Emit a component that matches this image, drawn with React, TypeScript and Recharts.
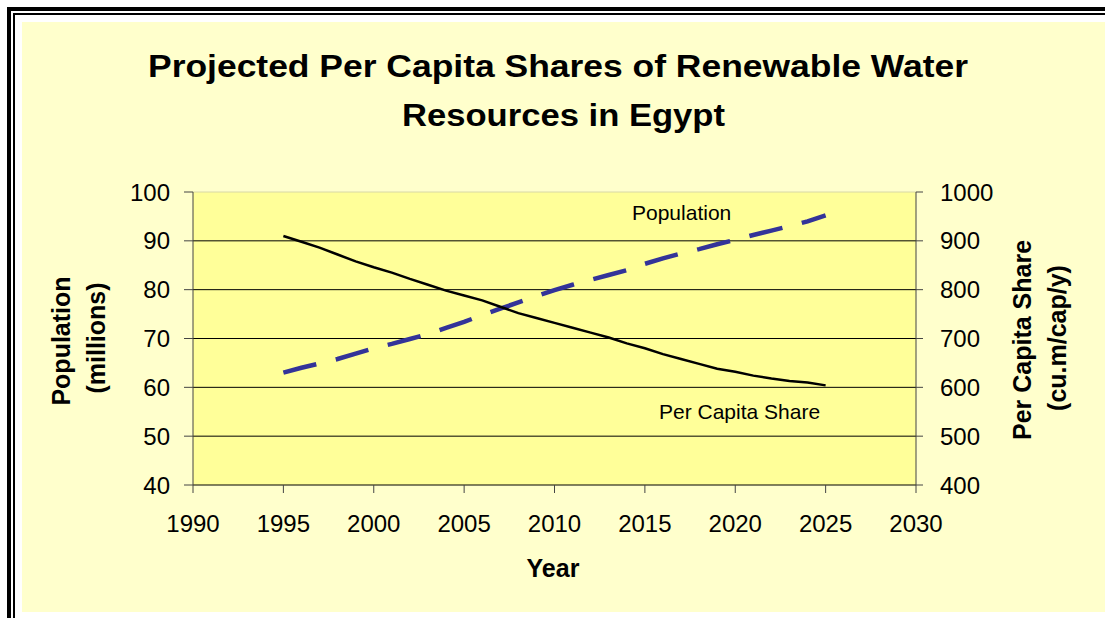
import React from "react";
import {
  LineChart,
  Line,
  XAxis,
  YAxis,
  CartesianGrid,
  ReferenceLine,
} from "recharts";

const years = [
  1995, 1996, 1997, 1998, 1999, 2000, 2001, 2002, 2003, 2004, 2005, 2006, 2007,
  2008, 2009, 2010, 2011, 2012, 2013, 2014, 2015, 2016, 2017, 2018, 2019, 2020,
  2021, 2022, 2023, 2024, 2025,
];
const population = [
  63, 64, 64.9, 65.8, 66.9, 68, 68.9, 69.9, 70.9, 72.2, 73.4, 74.8, 76.1, 77.4,
  78.7, 79.9, 81, 82, 83, 84, 85.3, 86.4, 87.4, 88.3, 89.3, 90.2, 91.2, 92.1, 93,
  94, 95.2,
];
const perCapita = [
  910, 898, 886, 872, 858, 846, 835, 822, 810, 798, 788, 778, 765, 752, 742,
  732, 722, 712, 702, 690, 680, 668, 658, 648, 638, 632, 624, 618, 613, 610, 604,
];
const xTicks = [1990, 1995, 2000, 2005, 2010, 2015, 2020, 2025, 2030];
const leftTicks = [40, 50, 60, 70, 80, 90, 100];
const rightTicks = [400, 500, 600, 700, 800, 900, 1000];
const gridValues = [50, 60, 70, 80, 90];

const titleLines = [
  "Projected Per Capita Shares of Renewable Water",
  "Resources in Egypt",
];

const data = years.map((y, i) => ({
  year: y,
  population: population[i],
  perCapita: perCapita[i],
}));

const FONT = "'Liberation Sans', Arial, sans-serif";
const tickStyle = { fontSize: 24, fill: "#000", fontFamily: FONT };

export default function App() {
  return (
    <div
      style={{
        position: "absolute",
        left: 0,
        top: 0,
        width: 1105,
        height: 618,
        background: "#fff",
        overflow: "hidden",
        fontFamily: FONT,
      }}
    >
      {/* frame lines */}
      <div style={{ position: "absolute", left: 7, top: 7, width: 1098, height: 4, background: "#000" }} />
      <div style={{ position: "absolute", left: 13, top: 13, width: 1092, height: 2, background: "#000" }} />
      <div style={{ position: "absolute", left: 7, top: 7, width: 4, height: 611, background: "#000" }} />
      <div style={{ position: "absolute", left: 13, top: 13, width: 2, height: 605, background: "#000" }} />
      {/* chart area background */}
      <div style={{ position: "absolute", left: 22, top: 22, width: 1083, height: 590, background: "#FFFFCC" }} />

      <div style={{ position: "absolute", left: 0, top: 0 }}>
        <LineChart
          width={1105}
          height={618}
          data={data}
          margin={{ top: 192, right: 0, bottom: 0, left: 0 }}
        >
          <CartesianGrid
            yAxisId="left"
            vertical={false}
            horizontalValues={gridValues}
            stroke="#000"
            strokeWidth={1}
            fill="#FFFF99"
          />
          <ReferenceLine yAxisId="left" y={100} stroke="#d8d8a8" strokeWidth={1} />
          <XAxis
            dataKey="year"
            type="number"
            domain={[1990, 2030]}
            ticks={xTicks}
            height={133}
            tickSize={8}
            tickMargin={22}
            stroke="#000"
            tick={tickStyle}
            tickLine={{ stroke: "#444" }}
            interval={0}
          />
          <YAxis
            yAxisId="left"
            orientation="left"
            domain={[40, 100]}
            ticks={leftTicks}
            width={193}
            tickSize={9}
            tickMargin={14}
            stroke="#444"
            tick={tickStyle}
            interval={0}
          />
          <YAxis
            yAxisId="right"
            orientation="right"
            domain={[400, 1000]}
            ticks={rightTicks}
            width={189}
            tickSize={7}
            tickMargin={17}
            stroke="#444"
            tick={tickStyle}
            interval={0}
          />
          <Line
            yAxisId="left"
            dataKey="population"
            type="linear"
            stroke="#333399"
            strokeWidth={4.5}
            strokeDasharray="34 20"
            dot={false}
            isAnimationActive={false}
          />
          <Line
            yAxisId="right"
            dataKey="perCapita"
            type="linear"
            stroke="#000"
            strokeWidth={2.5}
            dot={false}
            isAnimationActive={false}
          />
        </LineChart>
      </div>

      <svg
        width={1105}
        height={618}
        style={{ position: "absolute", left: 0, top: 0, pointerEvents: "none" }}
        fontFamily={FONT}
      >
        <text x={148} y={77} fontSize={31} fontWeight="bold" textLength={820} lengthAdjust="spacingAndGlyphs">
          {titleLines[0]}
        </text>
        <text x={402} y={126} fontSize={31} fontWeight="bold" textLength={323} lengthAdjust="spacingAndGlyphs">
          {titleLines[1]}
        </text>
        <text x={553} y={577} textAnchor="middle" fontSize={25} fontWeight="bold">
          Year
        </text>
        <text transform="translate(70,341) rotate(-90)" textAnchor="middle" fontSize={25} fontWeight="bold">
          Population
        </text>
        <text transform="translate(105,338) rotate(-90)" textAnchor="middle" fontSize={25} fontWeight="bold">
          (millions)
        </text>
        <text transform="translate(1031,340) rotate(-90)" textAnchor="middle" fontSize={25} fontWeight="bold">
          Per Capita Share
        </text>
        <text transform="translate(1066,338) rotate(-90)" textAnchor="middle" fontSize={25} fontWeight="bold">
          (cu.m/cap/y)
        </text>
        <text x={632} y={220} fontSize={21}>
          Population
        </text>
        <text x={659} y={419} fontSize={21}>
          Per Capita Share
        </text>
      </svg>
    </div>
  );
}
